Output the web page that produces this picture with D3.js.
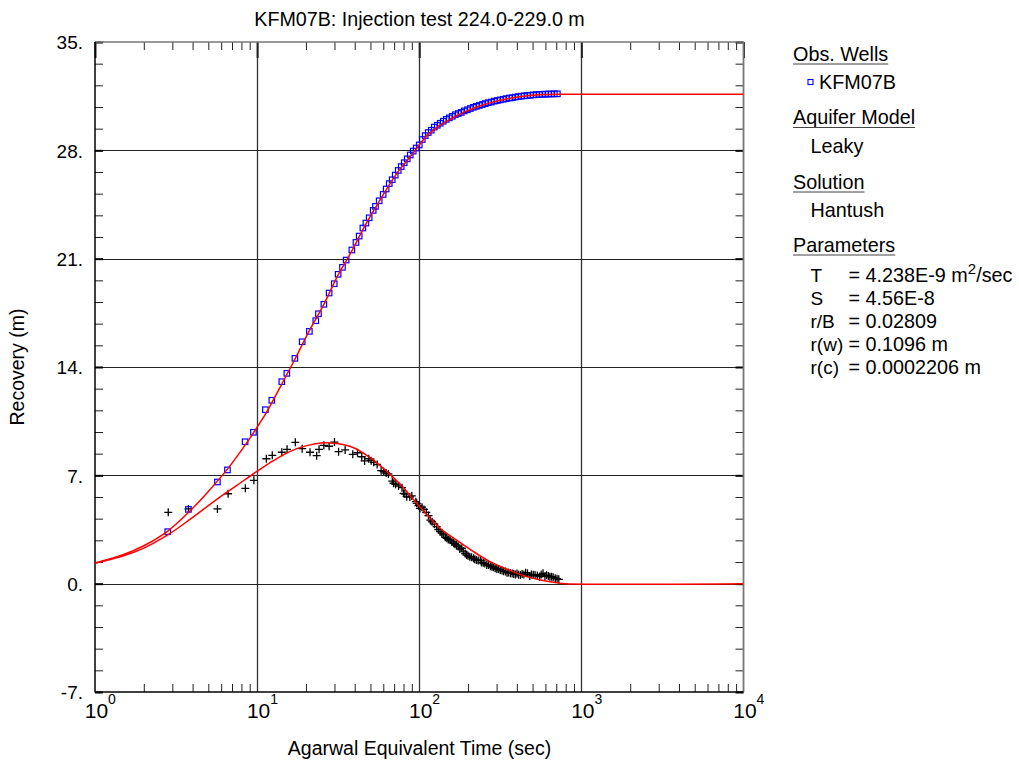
<!DOCTYPE html>
<html>
<head>
<meta charset="utf-8">
<script src="https://cdn.jsdelivr.net/npm/d3@7"></script>
<style>
  html, body { margin: 0; padding: 0; background: #fff; }
  svg { display: block; }
  text { font-family: "Liberation Sans", Arial, Helvetica, sans-serif; fill: #000; }
</style>
</head>
<body>
<svg id="chart" width="1019" height="765"></svg>
<script>
// ---------------- DATA ----------------
const titleText = "KFM07B: Injection test 224.0-229.0 m";
const xAxisTitle = "Agarwal Equivalent Time (sec)";
const yAxisTitle = "Recovery (m)";

const xMajorTicks = [1, 10, 100, 1000, 10000];
const xMajorExponents = ["0", "1", "2", "3", "4"];
const yMajorTicks = [-7, 0, 7, 14, 21, 28, 35];
const yTickLabels = ["-7.", "0.", "7.", "14.", "21.", "28.", "35."];
const yGridValues = [0, 7, 14, 21, 28];
const xGridValues = [10, 100, 1000];

// Observed recovery (blue squares)
const recTime = [2.81, 3.77, 5.69, 6.56, 8.43, 9.49, 11.25, 12.32, 14.2, 15.25, 17.1, 18.96, 21.0, 23.0, 23.9,
  25.8, 27.8, 29.9, 31.6, 33.6, 35.4, 38.4, 40.7, 42.6, 44.9, 46.9, 49.1, 52.0, 53.7, 56.6,
  59.9, 62.5, 65.3, 68.1, 71.1, 74.2, 77.4, 80.8, 84.3, 88.0, 91.8, 95.8, 100, 104.4, 108.9,
  113.6, 118.6, 123.8, 129.2, 134.8, 140.7, 146.8, 153.2, 159.9, 166.8, 174.1, 181.7, 189.6,
  197.9, 206.5, 215.5, 224.9, 234.7, 244.9, 255.6, 266.7, 278.3, 290.4, 303.1, 316.2, 330,
  344.4, 359.4, 375, 391.4, 408.4, 426.2, 444.8, 464.2, 484.4, 505.5, 527.5, 550.5, 574.5,
  599.5, 625.6, 652.9, 681.3, 711];
const recValue = [3.36, 4.8, 6.57, 7.35, 9.17, 9.78, 11.24, 11.85, 13.05, 13.59, 14.56, 15.63, 16.3, 16.99, 17.44,
  18.05, 18.78, 19.38, 19.99, 20.44, 20.91, 21.56, 22.05, 22.46, 22.98, 23.3, 23.64, 24.12, 24.38, 24.74,
  25.15, 25.5, 25.85, 26.1, 26.4, 26.7, 26.95, 27.2, 27.45, 27.7, 27.95, 28.15, 28.35, 28.7, 28.95,
  29.15, 29.3, 29.5, 29.62, 29.75, 29.88, 30.0, 30.1, 30.2, 30.3, 30.38, 30.45, 30.55,
  30.62, 30.7, 30.78, 30.84, 30.9, 30.96, 31.02, 31.08, 31.12, 31.18, 31.22, 31.26, 31.3,
  31.34, 31.38, 31.4, 31.44, 31.47, 31.5, 31.52, 31.54, 31.56, 31.58, 31.6, 31.61, 31.62,
  31.63, 31.64, 31.64, 31.65, 31.65];

// Derivative (black crosses)
const derTime = [2.83, 3.77, 5.69, 6.62, 8.46, 9.55, 11.4, 12.4, 14.2, 15.3, 17.2, 18.96, 21.2, 23.3, 24.1,
  25.8, 27.8, 30.0, 31.8, 34.9, 38.9, 41.6, 44.2, 46.0, 48.8, 50.5, 52.4, 55.0, 58.2, 60.3,
  62.5, 64.5, 68.2, 69.4, 71.5, 74.5, 78.3, 80.0, 81.5, 83.7, 87.5, 90.0, 95.3, 96.5, 98.9,
  101, 104, 107, 110.5, 114, 117, 120, 124, 128, 131, 134.5, 138, 141, 145, 148, 151, 155,
  159, 163, 166, 170, 174, 178, 183, 187, 192, 196, 200, 205, 210, 216, 220, 225, 231, 238,
  242, 248, 254, 261, 268, 275, 281, 287, 294, 301, 308, 316, 324, 331, 340, 348, 356, 365,
  374, 383, 392, 401, 410, 421, 431, 442, 453, 465, 480, 492, 505, 518, 535, 552, 565, 580,
  596, 610, 625, 640, 655, 670, 690, 708, 726];
const derValue = [4.61, 4.83, 4.83, 5.81, 6.16, 6.68, 8.07, 8.29, 8.49, 8.68, 9.13, 8.72, 8.49, 8.27, 8.68,
  8.94, 8.88, 9.15, 8.53, 8.64, 8.36, 8.46, 8.2, 7.93, 8.07, 7.95, 7.84, 7.7, 7.3, 7.24,
  7.15, 7.09, 6.63, 6.49, 6.42, 6.31, 6.2, 5.84, 5.79, 5.62, 5.6, 5.67, 5.3, 5.19, 5.04,
  4.87, 4.94, 4.8, 4.61, 4.4, 4.1, 4.0, 3.85, 3.68, 3.5, 3.36, 3.26, 3.15, 3.0, 2.93, 2.85, 2.82,
  2.7, 2.61, 2.55, 2.5, 2.4, 2.24, 2.29, 2.1, 1.95, 1.85, 1.8, 1.74, 1.71, 1.64, 1.58, 1.53, 1.5, 1.49,
  1.36, 1.35, 1.3, 1.21, 1.2, 1.12, 1.1, 1.06, 1.0, 0.95, 0.93, 0.88, 0.85, 0.8, 0.78, 0.71, 0.72, 0.68,
  0.66, 0.63, 0.6, 0.66, 0.58, 0.56, 0.62, 0.6, 0.71, 0.68, 0.5, 0.6, 0.58, 0.56, 0.52, 0.45, 0.6, 0.67,
  0.48, 0.55, 0.5, 0.44, 0.45, 0.41, 0.35, 0.32, 0.28];

// Fitted type curves (red)
const fitRecTime = [1, 1.5, 2, 2.81, 3.85, 4.89, 6.56, 8.43, 9.49, 11.25, 12.4, 14.2, 17.1, 21, 25.8, 31.6,
  38.4, 46.9, 56.6, 66.5, 76.3, 86.8, 97.6, 111.6, 129.7, 151.7, 171, 192, 216, 249, 288, 331,
  382, 440, 508, 585, 724, 1000, 10000];
const fitRecValue = [1.33, 1.88, 2.45, 3.4, 4.7, 5.85, 7.4, 8.95, 9.75, 10.95, 11.75, 12.9, 14.5, 16.35, 18.05, 19.95,
  21.5, 23.25, 24.7, 25.9, 26.8, 27.5, 28.2, 28.95, 29.5, 29.95, 30.25, 30.5, 30.72, 30.95, 31.13, 31.28,
  31.4, 31.5, 31.56, 31.6, 31.62, 31.62, 31.62];
const fitDerTime = [1, 1.5, 2, 2.81, 3.85, 5.64, 7.5, 9.8, 12.6, 16, 20.2, 25.6, 31, 39, 49.7, 60, 66, 76,
  96.5, 117, 134, 170, 216, 273, 348, 438, 561, 705, 800, 10000];
const fitDerValue = [1.32, 1.8, 2.3, 3.15, 4.15, 5.45, 6.35, 7.2, 7.95, 8.55, 8.92, 9.1, 9.05, 8.8, 8.15, 7.45, 7.05, 6.45,
  5.19, 4.22, 3.58, 2.82, 2.07, 1.42, 0.93, 0.52, 0.24, 0.06, 0.0, 0.0];

// Legend / info text
const legendWell = "KFM07B";
const legendModel = "Leaky";
const legendSolution = "Hantush";
const paramNames = ["T", "S", "r/B", "r(w)", "r(c)"];
const paramValues = ["= 4.238E-9 m", "= 4.56E-8", "= 0.02809", "= 0.1096 m", "= 0.0002206 m"];

// ---------------- CHART ----------------
const svg = d3.select("#chart");
const L = 95, R = 743.5, T = 42, B = 692;

const x = d3.scaleLog().domain([1, 10000]).range([L, R]);
const y = d3.scaleLinear().domain([-7, 35]).range([B, T]);

const FONT = "'Liberation Sans', Arial, Helvetica, sans-serif";

// minor ticks
const yMinor = d3.range(-7, 35.001, 1.4).map(v => +v.toFixed(2)).filter(v => !yMajorTicks.some(m => Math.abs(m - v) < 1e-6));
const xMinor = [];
[1, 10, 100, 1000].forEach(d => { for (let k = 2; k <= 9; k++) xMinor.push(d * k); });

// grid lines
const grid = svg.append("g");
grid.selectAll("line.gx").data(xGridValues).join("line")
  .attr("x1", d => Math.round(x(d)) + 0.5).attr("x2", d => Math.round(x(d)) + 0.5)
  .attr("y1", T).attr("y2", B).attr("stroke", "#333").attr("stroke-width", 1.3);
grid.selectAll("line.gy").data(yGridValues).join("line")
  .attr("y1", d => Math.round(y(d)) + 0.5).attr("y2", d => Math.round(y(d)) + 0.5)
  .attr("x1", L).attr("x2", R).attr("stroke", "#222").attr("stroke-width", 1.2);

// axes (ticks pointing inward)
function styleAxis(g, color, width) {
  g.select(".domain").remove();
  g.selectAll(".tick line").attr("stroke", color).attr("stroke-width", width);
}
svg.append("g").attr("transform", `translate(${L},0)`)
  .call(d3.axisLeft(y).tickValues(yMinor).tickSize(-8).tickFormat(""))
  .call(g => styleAxis(g, "#222", 1));
svg.append("g").attr("transform", `translate(${L},0)`)
  .call(d3.axisLeft(y).tickValues(yMajorTicks).tickSize(-8).tickPadding(12).tickFormat((d, i) => yTickLabels[i]))
  .call(g => styleAxis(g, "#000", 2))
  .call(g => g.selectAll("text").attr("font-family", FONT).attr("font-size", 19).attr("fill", "#000").attr("dy", "0.36em"));
svg.append("g").attr("transform", `translate(${R},0)`)
  .call(d3.axisRight(y).tickValues(yMinor).tickSize(-8).tickFormat(""))
  .call(g => styleAxis(g, "#222", 1));
svg.append("g").attr("transform", `translate(${R},0)`)
  .call(d3.axisRight(y).tickValues(yMajorTicks).tickSize(-8).tickFormat(""))
  .call(g => styleAxis(g, "#000", 2));
svg.append("g").attr("transform", `translate(0,${B})`)
  .call(d3.axisBottom(x).tickValues(xMinor).tickSize(-8).tickFormat(""))
  .call(g => styleAxis(g, "#222", 1));
svg.append("g").attr("transform", `translate(0,${T})`)
  .call(d3.axisTop(x).tickValues(xMinor).tickSize(-8).tickFormat(""))
  .call(g => styleAxis(g, "#222", 1));
svg.append("g").attr("transform", `translate(0,${T})`)
  .call(d3.axisTop(x).tickValues(xMajorTicks).tickSize(-16).tickFormat(""))
  .call(g => styleAxis(g, "#222", 2));

// frame
svg.append("line").attr("x1", L).attr("x2", R).attr("y1", T).attr("y2", T).attr("stroke", "#777").attr("stroke-width", 1.3);
svg.append("line").attr("x1", R).attr("x2", R).attr("y1", T).attr("y2", B).attr("stroke", "#777").attr("stroke-width", 1.8);
svg.append("line").attr("x1", L).attr("x2", L).attr("y1", T).attr("y2", B + 0.5).attr("stroke", "#000").attr("stroke-width", 1.5);
svg.append("line").attr("x1", L).attr("x2", R).attr("y1", B).attr("y2", B).attr("stroke", "#000").attr("stroke-width", 1.5);

// x tick labels 10^n
const xl = svg.append("g");
xMajorTicks.forEach((v, i) => {
  const cx = x(v);
  xl.append("text").attr("x", cx + 1.5).attr("y", 718).attr("text-anchor", "middle")
    .attr("font-family", FONT).attr("font-size", 21).text("10");
  xl.append("text").attr("x", cx + 13).attr("y", 704)
    .attr("font-family", FONT).attr("font-size", 14).text(xMajorExponents[i]);
});

// clip
svg.append("clipPath").attr("id", "plotclip").append("rect")
  .attr("x", L).attr("y", T).attr("width", R - L).attr("height", B - T);
const plot = svg.append("g").attr("clip-path", "url(#plotclip)");

// derivative crosses
plot.append("g").selectAll("path").data(derTime.map((t, i) => [t, derValue[i]])).join("path")
  .attr("transform", d => `translate(${x(d[0])},${y(d[1])})`)
  .attr("d", "M-4,0H4M0,-4V4")
  .attr("stroke", "#000").attr("stroke-width", 1.3).attr("fill", "none");

// recovery squares
plot.append("g").selectAll("rect").data(recTime.map((t, i) => [t, recValue[i]])).join("rect")
  .attr("x", d => x(d[0]) - 2.75).attr("y", d => y(d[1]) - 2.75)
  .attr("width", 5.5).attr("height", 5.5)
  .attr("fill", "none").attr("stroke", "#0000ff").attr("stroke-width", 1.2);

// fitted curves
const line = d3.line().x(d => x(d[0])).y(d => y(d[1])).curve(d3.curveCatmullRom.alpha(0.5));
plot.append("path").datum(fitRecTime.map((t, i) => [t, fitRecValue[i]]))
  .attr("d", line).attr("fill", "none").attr("stroke", "#ff0000").attr("stroke-width", 1.5);
plot.append("path").datum(fitDerTime.map((t, i) => [t, fitDerValue[i]]))
  .attr("d", line).attr("fill", "none").attr("stroke", "#ff0000").attr("stroke-width", 1.5);

// titles
svg.append("text").attr("x", 419.5).attr("y", 26).attr("text-anchor", "middle")
  .attr("font-family", FONT).attr("font-size", 19.7).text(titleText);
svg.append("text").attr("x", 419.5).attr("y", 755).attr("text-anchor", "middle")
  .attr("font-family", FONT).attr("font-size", 19.5).text(xAxisTitle);
svg.append("text").attr("transform", "translate(24,367) rotate(-90)").attr("text-anchor", "middle")
  .attr("font-family", FONT).attr("font-size", 19.5).text(yAxisTitle);

// legend panel
const lg = svg.append("g").attr("font-family", FONT).attr("font-size", 19.8);
function heading(txt, yb) {
  const t = lg.append("text").attr("x", 793).attr("y", yb).text(txt);
  const w = t.node().getComputedTextLength();
  lg.append("line").attr("x1", 793).attr("x2", 793 + w).attr("y1", yb + 3.5).attr("y2", yb + 3.5)
    .attr("stroke", "#444").attr("stroke-width", 1.2);
}
heading("Obs. Wells", 60.5);
lg.append("rect").attr("x", 808).attr("y", 79.5).attr("width", 5).attr("height", 5)
  .attr("fill", "none").attr("stroke", "#0000ff").attr("stroke-width", 1.1);
lg.append("text").attr("x", 819).attr("y", 89).text(legendWell);
heading("Aquifer Model", 124);
lg.append("text").attr("x", 810.5).attr("y", 153).text(legendModel);
heading("Solution", 188.5);
lg.append("text").attr("x", 810.5).attr("y", 217).text(legendSolution);
heading("Parameters", 251.5);
paramNames.forEach((n, i) => {
  const yb = 281.5 + i * 23.2;
  lg.append("text").attr("x", 810.5).attr("y", yb).attr("font-size", 19).text(n);
  const t = lg.append("text").attr("x", 848.5).attr("y", yb).text(paramValues[i]);
  if (i === 0) {
    t.append("tspan").attr("dy", -8).attr("font-size", 15).text("2");
    t.append("tspan").attr("dy", 8).text("/sec");
  }
});
</script>
</body>
</html>
